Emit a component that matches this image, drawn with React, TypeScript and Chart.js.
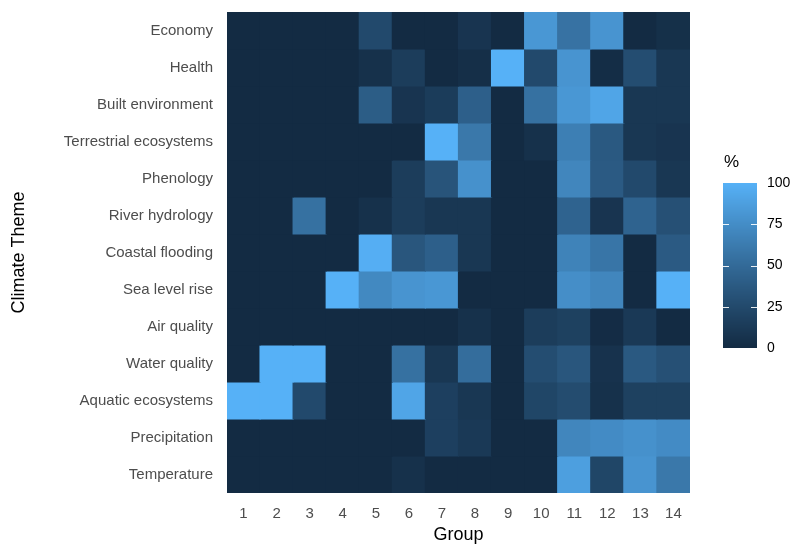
import React, { useEffect, useRef } from "react";
import { Chart, registerables } from "chart.js";

Chart.register(...registerables);

const themes = [
  "Economy",
  "Health",
  "Built environment",
  "Terrestrial ecosystems",
  "Phenology",
  "River hydrology",
  "Coastal flooding",
  "Sea level rise",
  "Air quality",
  "Water quality",
  "Aquatic ecosystems",
  "Precipitation",
  "Temperature",
];

const groups = ["1", "2", "3", "4", "5", "6", "7", "8", "9", "10", "11", "12", "13", "14"];

const economy = [0, 0, 0, 0, 25, 0, 0, 8, 0, 82, 56, 80, 0, 4];
const health = [0, 0, 0, 0, 5, 15, 0, 3, 100, 25, 80, 2, 28, 10];
const builtEnvironment = [0, 0, 0, 0, 40, 8, 14, 42, 0, 55, 82, 92, 10, 10];
const terrestrialEcosystems = [0, 0, 0, 0, 0, 0, 100, 60, 0, 5, 65, 37, 10, 8];
const phenology = [0, 0, 0, 0, 0, 15, 33, 78, 0, 0, 70, 38, 25, 10];
const riverHydrology = [0, 0, 55, 0, 5, 15, 10, 10, 0, 0, 45, 8, 45, 30];
const coastalFlooding = [0, 0, 0, 0, 98, 35, 42, 10, 0, 0, 68, 58, 0, 38];
const seaLevelRise = [0, 0, 0, 100, 72, 80, 82, 0, 0, 0, 76, 70, 0, 100];
const airQuality = [0, 0, 0, 0, 0, 0, 0, 5, 0, 15, 18, 1, 12, 0];
const waterQuality = [0, 100, 100, 0, 0, 55, 10, 52, 0, 28, 35, 6, 37, 30];
const aquaticEcosystems = [100, 100, 25, 0, 0, 92, 17, 10, 0, 22, 27, 5, 18, 18];
const precipitation = [0, 0, 0, 0, 0, 0, 17, 12, 0, 0, 70, 74, 78, 74];
const temperature = [0, 0, 0, 0, 0, 5, 0, 0, 0, 0, 88, 22, 80, 60];

const rows = [
  economy,
  health,
  builtEnvironment,
  terrestrialEcosystems,
  phenology,
  riverHydrology,
  coastalFlooding,
  seaLevelRise,
  airQuality,
  waterQuality,
  aquaticEcosystems,
  precipitation,
  temperature,
];

const legendTicks = [0, 25, 50, 75, 100];

// ---- colour scale (Lab interpolation like ggplot2) ----
function srgbToLinear(c: number) {
  c /= 255;
  return c <= 0.04045 ? c / 12.92 : Math.pow((c + 0.055) / 1.055, 2.4);
}
function linearToSrgb(c: number) {
  const v = c <= 0.0031308 ? 12.92 * c : 1.055 * Math.pow(c, 1 / 2.4) - 0.055;
  return Math.max(0, Math.min(255, Math.round(v * 255)));
}
const Xn = 0.95047, Yn = 1.0, Zn = 1.08883;
function f(t: number) {
  return t > 216 / 24389 ? Math.cbrt(t) : (24389 / 27 * t + 16) / 116;
}
function finv(t: number) {
  return t * t * t > 216 / 24389 ? t * t * t : (116 * t - 16) / (24389 / 27);
}
function hexToLab(hex: string) {
  const r = srgbToLinear(parseInt(hex.slice(1, 3), 16));
  const g = srgbToLinear(parseInt(hex.slice(3, 5), 16));
  const b = srgbToLinear(parseInt(hex.slice(5, 7), 16));
  const X = 0.4124 * r + 0.3576 * g + 0.1805 * b;
  const Y = 0.2126 * r + 0.7152 * g + 0.0722 * b;
  const Z = 0.0193 * r + 0.1192 * g + 0.9505 * b;
  const fx = f(X / Xn), fy = f(Y / Yn), fz = f(Z / Zn);
  return [116 * fy - 16, 500 * (fx - fy), 200 * (fy - fz)];
}
function labToRgb(L: number, a: number, bb: number) {
  const fy = (L + 16) / 116;
  const fx = fy + a / 500;
  const fz = fy - bb / 200;
  const X = Xn * finv(fx), Y = Yn * finv(fy), Z = Zn * finv(fz);
  const r = 3.2406 * X - 1.5372 * Y - 0.4986 * Z;
  const g = -0.9689 * X + 1.8758 * Y + 0.0415 * Z;
  const b = 0.0557 * X - 0.204 * Y + 1.057 * Z;
  return `rgb(${linearToSrgb(r)},${linearToSrgb(g)},${linearToSrgb(b)})`;
}
const lowLab = hexToLab("#132B43");
const highLab = hexToLab("#56B1F7");
function colourFor(v: number) {
  const t = Math.max(0, Math.min(1, v / 100));
  return labToRgb(
    lowLab[0] + (highLab[0] - lowLab[0]) * t,
    lowLab[1] + (highLab[1] - lowLab[1]) * t,
    lowLab[2] + (highLab[2] - lowLab[2]) * t
  );
}

const FONT = "'Liberation Sans', Arial, sans-serif";

const legendPlugin = {
  id: "colourbarLegend",
  afterDraw(chart: any) {
    const ctx = chart.ctx as CanvasRenderingContext2D;
    const x0 = 723, x1 = 757, yTop = 183, yBot = 348;
    ctx.save();
    for (let y = yTop; y < yBot; y++) {
      const v = ((yBot - y - 0.5) / (yBot - yTop)) * 100;
      ctx.fillStyle = colourFor(v);
      ctx.fillRect(x0, y, x1 - x0, 1);
    }
    ctx.strokeStyle = "rgba(255,255,255,0.9)";
    ctx.lineWidth = 1;
    ctx.fillStyle = "#000000";
    ctx.font = `14px ${FONT}`;
    ctx.textAlign = "left";
    ctx.textBaseline = "middle";
    legendTicks.forEach((t) => {
      const y = yBot - (t / 100) * (yBot - yTop);
      if (t > 0 && t < 100) {
        ctx.beginPath();
        ctx.moveTo(x0, Math.round(y) + 0.5);
        ctx.lineTo(x0 + 6, Math.round(y) + 0.5);
        ctx.moveTo(x1 - 6, Math.round(y) + 0.5);
        ctx.lineTo(x1, Math.round(y) + 0.5);
        ctx.stroke();
      }
      ctx.fillText(String(t), 767, y);
    });
    ctx.font = `17px ${FONT}`;
    ctx.fillText("%", 724, 162);
    ctx.restore();
  },
};

export default function App() {
  const ref = useRef<HTMLCanvasElement | null>(null);
  useEffect(() => {
    if (!ref.current) return;
    const datasets = rows.map((vals, r) => ({
      label: themes[r],
      data: groups.map((g) => ({ x: g, y: [r - 0.5, r + 0.5] })),
      backgroundColor: vals.map((v) => colourFor(v)),
      borderWidth: 0,
      inflateAmount: 0.6,
      barPercentage: 1,
      categoryPercentage: 1,
      grouped: false,
    }));
    const chart = new Chart(ref.current, {
      type: "bar",
      data: { labels: groups, datasets: datasets as any },
      plugins: [legendPlugin],
      options: {
        responsive: false,
        animation: false,
        layout: { padding: { top: 12, right: 108, left: 0, bottom: 0 } },
        plugins: { legend: { display: false }, tooltip: { enabled: false } },
        scales: {
          x: {
            type: "category",
            offset: true,
            grid: { display: false, drawTicks: false },
            border: { display: false },
            ticks: { color: "#4D4D4D", font: { family: FONT, size: 15 }, padding: 12, maxRotation: 0 },
            title: { display: true, text: "Group", color: "#000000", font: { family: FONT, size: 18 }, padding: { top: 0, bottom: 0 } },
            afterFit: (scale: any) => {
              scale.height = 53;
              scale.paddingLeft = 0;
              scale.paddingRight = 0;
            },
          },
          y: {
            type: "linear",
            reverse: true,
            min: -0.5,
            max: 12.5,
            grid: { display: false, drawTicks: false },
            border: { display: false },
            afterBuildTicks: (scale: any) => {
              scale.ticks = themes.map((_, i) => ({ value: i }));
            },
            ticks: {
              color: "#4D4D4D",
              font: { family: FONT, size: 15 },
              padding: 14,
              autoSkip: false,
              callback: (v: any) => themes[Math.round(Number(v))] ?? "",
            },
            title: { display: true, text: "Climate Theme", color: "#000000", font: { family: FONT, size: 18 }, padding: { top: 8, bottom: 4 } },
            afterFit: (scale: any) => {
              scale.width = 227;
              scale.paddingTop = 0;
              scale.paddingBottom = 0;
            },
          },
        },
      } as any,
    });
    return () => chart.destroy();
  }, []);
  return (
    <div style={{ position: "fixed", left: 0, top: 0, width: 798, height: 546, background: "#ffffff" }}>
      <canvas ref={ref} width={798} height={546} style={{ width: 798, height: 546, display: "block" }} />
    </div>
  );
}
